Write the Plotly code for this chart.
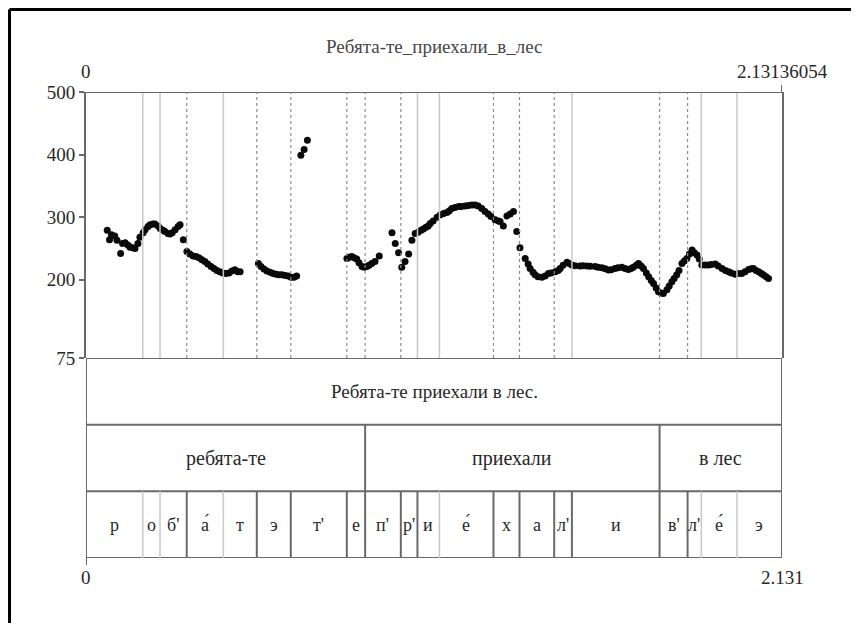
import plotly.graph_objects as go

# ---------------- data ----------------
TOTAL = 2.13136054
title_text = "Ребята-те_приехали_в_лес"
sentence = "Ребята-те приехали в лес."

words = ["ребята-те", "приехали", "в лес"]
word_bounds = [0.0, 0.8548, 1.7564, TOTAL]

phones = ["р", "о", "б'", "а\u0301", "т", "э", "т'", "е", "п'", "р'", "и",
          "е\u0301", "х", "а", "л'", "и", "в'", "л'", "е\u0301", "э"]
phone_bounds = [0.0, 0.1737, 0.2267, 0.3085, 0.4206, 0.5230, 0.6271, 0.7987,
                0.8548, 0.9641, 1.0150, 1.0824, 1.2478, 1.3275, 1.4338, 1.4880,
                1.7564, 1.8422, 1.8842, 1.9935, TOTAL]

f0_time = [
    0.065, 0.072, 0.078, 0.088, 0.095, 0.106, 0.112, 0.120, 0.129, 0.135, 0.144, 0.150,
    0.159, 0.165, 0.175, 0.181, 0.190, 0.196, 0.205, 0.211, 0.221, 0.227, 0.236, 0.242,
    0.251, 0.257, 0.264, 0.273, 0.282, 0.288, 0.298,
    0.309, 0.318, 0.328, 0.337, 0.346, 0.355, 0.364, 0.373, 0.383, 0.392, 0.401, 0.410,
    0.419, 0.428, 0.438, 0.447, 0.456, 0.465, 0.472,
    0.528, 0.536, 0.545, 0.554, 0.564, 0.573, 0.582, 0.591, 0.600, 0.610, 0.619, 0.628,
    0.637, 0.645,
    0.658, 0.668, 0.678,
    0.799, 0.806, 0.814, 0.821, 0.829, 0.836, 0.845, 0.852, 0.860, 0.867, 0.875, 0.885,
    0.898,
    0.937, 0.947, 0.957, 0.967, 0.977, 0.988, 0.998,
    1.008, 1.017, 1.026, 1.033, 1.041, 1.048, 1.054, 1.063, 1.075, 1.085, 1.095, 1.105,
    1.112, 1.120, 1.130, 1.141, 1.149, 1.161, 1.171, 1.182, 1.192, 1.201, 1.212, 1.222,
    1.232, 1.240, 1.253, 1.263, 1.268, 1.278, 1.289, 1.299, 1.309, 1.319, 1.329,
    1.345, 1.354, 1.360, 1.369, 1.375, 1.384, 1.396, 1.406, 1.416, 1.424, 1.437, 1.446,
    1.452, 1.461, 1.473, 1.480, 1.488, 1.498, 1.513, 1.522, 1.534, 1.544, 1.559, 1.568,
    1.580, 1.590, 1.600, 1.608, 1.620, 1.629, 1.641, 1.651, 1.661, 1.669, 1.676, 1.685,
    1.692, 1.700, 1.707, 1.716, 1.723, 1.731, 1.738, 1.746, 1.753, 1.761, 1.768, 1.779,
    1.786, 1.794, 1.801, 1.809, 1.816, 1.825, 1.832, 1.840, 1.848, 1.856, 1.863, 1.871,
    1.878, 1.886, 1.897, 1.907, 1.915, 1.927, 1.936, 1.948, 1.958, 1.968, 1.976, 1.988,
    1.997, 2.008, 2.018, 2.029, 2.037, 2.044, 2.052, 2.060, 2.068, 2.075, 2.083, 2.090,
]
f0_hz = [
    279, 264, 272, 270, 263, 242, 258, 259, 255, 252, 251, 250,
    258, 268, 275, 280, 285, 288, 289, 289, 286, 282, 279, 277,
    274, 273, 275, 280, 285, 288, 264,
    245, 241, 238, 237, 235, 232, 229, 225, 221, 218, 215, 213,
    211, 210, 211, 214, 216, 213, 213,
    226, 221, 217, 214, 212, 210, 209, 208, 208, 207, 206, 204,
    204, 206,
    399, 408, 423,
    234, 236, 237, 235, 233, 227, 221, 220, 221, 223, 226, 229,
    238,
    275, 258, 243, 220, 229, 241, 263,
    274, 276, 279, 281, 284, 286, 290, 294, 300, 304, 306, 307.5,
    310, 314, 315.5, 317, 317, 318, 318.5, 319.4, 319.4, 318, 314, 309,
    305, 301, 296, 294, 293, 286, 302, 305, 309, 277, 251,
    234, 225, 218, 212, 208, 205, 204, 206, 210, 211, 213, 215,
    218, 223, 228, 226, 223.5, 222.5, 222, 222.5, 222, 221.5, 221, 220,
    219, 217.5, 215.6, 216, 218, 219, 220, 218, 216.6, 218, 220, 223,
    226, 222, 218, 211, 205, 199, 194, 187, 181, 179, 178, 184,
    190, 197, 202, 208, 215, 226, 230, 234, 241, 247.5, 243, 239.5,
    233, 223.5, 223.5, 223.5, 224.5, 225, 222, 218, 215, 213, 211, 209,
    210, 210, 213, 216.6, 217.5, 218, 215, 213, 210, 207.6, 205, 202,
]

y_ticks = [75, 200, 300, 400, 500]
y_range = [75, 500]

# ---------------- style ----------------
FONT = "Liberation Serif, Times New Roman, Times, serif"
TXT = "rgb(40,40,40)"
DARK = "rgb(105,105,105)"
LIGHT = "rgb(200,200,200)"
DOT = "rgb(140,140,140)"
light_pitch = {0.1737, 0.2267, 0.4206, 1.0150, 1.0824, 1.4880, 1.8842, 1.9935}
light_phone = {0.1737, 0.2267, 0.4206, 1.0824, 1.8842, 1.9935}

fig = go.Figure()
fig.add_trace(go.Scatter(
    x=f0_time, y=f0_hz, mode="markers",
    marker=dict(size=7, color="rgb(10,10,10)"),
    xaxis="x", yaxis="y", hoverinfo="skip", showlegend=False))

shapes = []
def line(x0, y0, x1, y1, yref, color, width, dash="solid", xref="x"):
    shapes.append(dict(type="line", xref=xref, yref=yref, x0=x0, y0=y0, x1=x1, y1=y1,
                       line=dict(color=color, width=width, dash=dash), layer="above"))

# vertical boundary lines in pitch panel
for b in phone_bounds[1:-1]:
    if b in light_pitch:
        line(b, y_range[0], b, y_range[1], "y", LIGHT, 1.5)
    else:
        line(b, y_range[0], b, y_range[1], "y", DOT, 1.2, "dot")

# pitch panel top line
line(0, y_range[1], TOTAL, y_range[1], "y", DARK, 2)

# tier horizontal lines
for yy in [0, 1, 2, 3]:
    line(0, yy, TOTAL, yy, "y2", DARK, 2)
# tier outer verticals
line(0, 0, 0, 3, "y2", DARK, 2)
line(TOTAL, 0, TOTAL, 3, "y2", DARK, 2)
# word boundaries
for b in word_bounds[1:-1]:
    line(b, 1, b, 2, "y2", DARK, 2)
# phone boundaries
for b in phone_bounds[1:-1]:
    if b in light_phone:
        line(b, 0, b, 1, "y2", LIGHT, 1.5)
    else:
        line(b, 0, b, 1, "y2", DARK, 2)

# small corner ticks
line(0, -0.015, 0, 0.0, "paper", DARK, 2)
line(TOTAL, 1.0, TOTAL, 1.015, "paper", DARK, 2)

# outer frame
line(-0.1099, 1.177, 1.2, 1.177, "paper", "black", 3, xref="paper")
line(-0.1099, 1.177, -0.1099, -0.2, "paper", "black", 3, xref="paper")

ann = []
def text(x, y, s, yref, size=16, xref="x", xanchor="center", color=TXT):
    ann.append(dict(x=x, y=y, xref=xref, yref=yref, text=s, showarrow=False,
                    xanchor=xanchor, yanchor="middle",
                    font=dict(family=FONT, size=size, color=color)))

text(TOTAL / 2, 1.0966, title_text, "paper", 19, color="rgb(70,70,70)")
text(0, 1.043, "0", "paper", 19)
text(TOTAL, 1.043, f"{TOTAL:.8f}", "paper", 19)
text(0, -0.041, "0", "paper", 19)
text(TOTAL, -0.041, f"{TOTAL:.3f}", "paper", 19)
text(TOTAL / 2, 2.5, sentence, "y2", 19)
for w, a, b in zip(words, word_bounds[:-1], word_bounds[1:]):
    text((a + b) / 2, 1.5, w, "y2", 20)
for p, a, b in zip(phones, phone_bounds[:-1], phone_bounds[1:]):
    text((a + b) / 2, 0.5, p, "y2", 18)

SPLIT = 200 / 466
fig.update_layout(
    width=859, height=623,
    margin=dict(l=78, r=85, t=84, b=73),
    paper_bgcolor="white", plot_bgcolor="white",
    showlegend=False,
    xaxis=dict(range=[0, TOTAL], domain=[0, 1], showticklabels=False, ticks="",
               showgrid=False, zeroline=False, showline=False, anchor="y"),
    yaxis=dict(domain=[SPLIT, 1], range=y_range, tickvals=y_ticks,
               ticktext=[str(v) for v in y_ticks], ticks="outside", ticklen=5,
               tickwidth=2, tickcolor=DARK, showgrid=False, zeroline=False,
               showline=True, linecolor=DARK, linewidth=2, mirror=True,
               tickfont=dict(family=FONT, size=19, color=TXT), anchor="x"),
    yaxis2=dict(domain=[0, SPLIT], range=[0, 3], visible=False, anchor="x"),
    shapes=shapes, annotations=ann,
)

fig.write_html("out.html")
